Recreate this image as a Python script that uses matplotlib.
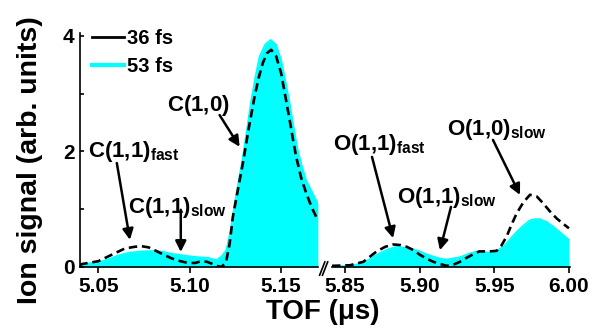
import matplotlib
matplotlib.use("Agg")
import matplotlib.pyplot as plt
from matplotlib.lines import Line2D
from matplotlib.ticker import MultipleLocator

plt.rcParams['font.family'] = ['Liberation Sans', 'DejaVu Sans']
plt.rcParams['font.weight'] = 'bold'
plt.rcParams['mathtext.fontset'] = 'custom'
plt.rcParams['mathtext.rm'] = 'Liberation Sans:bold'
plt.rcParams['mathtext.bf'] = 'Liberation Sans:bold'

# C region (left panel)
c_t53 = [5.0399, 5.0408, 5.0499, 5.0560, 5.0608, 5.0670, 5.0737, 5.0809, 5.0860, 5.0901,
         5.0992, 5.1050, 5.1101, 5.1147, 5.1175, 5.1202, 5.1225, 5.1248, 5.1270, 5.1293,
         5.1316, 5.1339, 5.1362, 5.1384, 5.1415, 5.1445, 5.1475, 5.1503, 5.1526, 5.1549,
         5.1571, 5.1593, 5.1617, 5.1640, 5.1672, 5.1704]
c_y53 = [0.03, 0.05, 0.08, 0.14, 0.20, 0.25, 0.27, 0.28, 0.26, 0.23,
         0.19, 0.17, 0.16, 0.12, 0.18, 0.29, 0.62, 1.10, 1.50, 1.91,
         2.40, 2.89, 3.30, 3.64, 3.85, 3.93, 3.85, 3.58, 3.22, 2.84,
         2.42, 2.03, 1.74, 1.50, 1.30, 1.10]
c_t36 = [5.0399, 5.0408, 5.0499, 5.0572, 5.0645, 5.0700, 5.0737, 5.0775, 5.0809, 5.0860,
         5.0901, 5.0950, 5.0992, 5.1030, 5.1065, 5.1095, 5.1120, 5.1150, 5.1175, 5.1200,
         5.1220, 5.1238, 5.1265, 5.1293, 5.1325, 5.1357, 5.1380, 5.1402, 5.1425, 5.1448,
         5.1475, 5.1503, 5.1526, 5.1549, 5.1567, 5.1585, 5.1612, 5.1640, 5.1672, 5.1704]
c_y36 = [0.02, 0.05, 0.10, 0.21, 0.32, 0.35, 0.36, 0.34, 0.29, 0.21,
         0.15, 0.10, 0.07, 0.07, 0.10, 0.09, 0.06, 0.02, 0.00, 0.08,
         0.40, 0.87, 1.33, 1.80, 2.40, 2.95, 3.28, 3.53, 3.70, 3.76,
         3.65, 3.35, 2.95, 2.55, 2.22, 1.91, 1.55, 1.28, 1.02, 0.81]

# O region (right panel)
o_t53 = [5.8413, 5.8533, 5.8623, 5.8712, 5.8780, 5.8846, 5.8913, 5.8980, 5.9069, 5.9130,
         5.9181, 5.9270, 5.9330, 5.9382, 5.9426, 5.9471, 5.9516, 5.9560, 5.9605, 5.9650,
         5.9695, 5.9739, 5.9775, 5.9806, 5.9850, 5.9895, 5.9950, 6.0000]
o_y53 = [0.01, 0.02, 0.07, 0.21, 0.30, 0.35, 0.33, 0.29, 0.20, 0.15,
         0.13, 0.17, 0.23, 0.27, 0.26, 0.25, 0.28, 0.35, 0.48, 0.61,
         0.72, 0.81, 0.83, 0.83, 0.78, 0.70, 0.58, 0.47]
o_t36 = [5.8413, 5.8533, 5.8623, 5.8712, 5.8770, 5.8824, 5.8870, 5.8913, 5.8960, 5.9002,
         5.9050, 5.9091, 5.9140, 5.9181, 5.9225, 5.9270, 5.9315, 5.9359, 5.9400, 5.9426,
         5.9470, 5.9516, 5.9545, 5.9583, 5.9615, 5.9650, 5.9695, 5.9739, 5.9785, 5.9828,
         5.9870, 5.9918, 5.9960, 6.0000]
o_y36 = [0.02, 0.03, 0.09, 0.27, 0.35, 0.39, 0.38, 0.35, 0.29, 0.21,
         0.14, 0.09, 0.05, 0.02, 0.04, 0.09, 0.16, 0.22, 0.27, 0.27,
         0.27, 0.28, 0.36, 0.53, 0.73, 0.93, 1.12, 1.25, 1.22, 1.10,
         0.97, 0.84, 0.75, 0.67]

legend_labels = ['36 fs', '53 fs']
cyan = '#00FFFF'

fig = plt.figure(figsize=(5.98, 3.29), dpi=100)
axL = fig.add_axes([80/598, 1-267/329, 238/598, 234/329])
axR = fig.add_axes([332/598, 1-267/329, 238/598, 234/329])

for ax, t53, y53, t36, y36 in [(axL, c_t53, c_y53, c_t36, c_y36),
                               (axR, o_t53, o_y53, o_t36, o_y36)]:
    ax.fill_between(t53, 0, y53, color=cyan, lw=0)
    ax.plot(t53, y53, color=cyan, lw=1.2)
    ax.plot(t36, y36, color='k', lw=1.9, dashes=(3.2, 1.8))
    ax.set_ylim(0, 4.05)
    ax.spines['top'].set_visible(False)
    ax.spines['right'].set_visible(False)
    ax.spines['bottom'].set_linewidth(1.2)
    ax.tick_params(axis='x', direction='out', length=4, width=1.2, labelsize=15, pad=3)
    ax.patch.set_visible(False)

axL.set_xlim(5.0399, 5.1705)
axR.set_xlim(5.8413, 6.0007)
axL.set_xticks([5.05, 5.10, 5.15])
axL.set_xticklabels(['5.05', '5.10', '5.15'])
axR.set_xticks([5.85, 5.90, 5.95, 6.00])
axR.set_xticklabels(['5.85', '5.90', '5.95', '6.00'])

axL.spines['left'].set_linewidth(1.2)
axL.set_yticks([0, 2, 4])
axL.yaxis.set_minor_locator(MultipleLocator(1))
axL.tick_params(axis='y', which='both', direction='in', length=3, width=1.2, labelsize=15, pad=4)
axR.spines['left'].set_visible(False)
axR.set_yticks([])

# axis break marks
for dx in (0, 0.012):
    axR.plot([-0.052 + dx, -0.030 + dx], [-0.035, 0.022], transform=axR.transAxes,
             color='k', lw=1.2, clip_on=False)

fig.text(30/598, 1-160/329, 'Ion signal (arb. units)', rotation=90, ha='center', va='center',
         fontsize=20.5, fontweight='bold')
fig.text(323/598, 1-312/329, 'TOF (\u03bcs)', ha='center', va='center',
         fontsize=20, fontweight='bold')

handles = [Line2D([], [], color='k', lw=2), Line2D([], [], color=cyan, lw=3)]
axL.legend(handles, legend_labels, loc='upper left', bbox_to_anchor=(-0.025, 1.095), frameon=False,
           handlelength=1.6, handletextpad=0.15, labelspacing=0.45,
           prop={'weight': 'bold', 'size': 14.5})

arrow = dict(arrowstyle='-|>', lw=1.8, color='k', mutation_scale=16, shrinkA=0, shrinkB=0)
fs = 16
axL.text(5.0443, 1.905, r'$\mathbf{C(1{,}1)}_{\mathbf{fast}}$', fontsize=fs, va='baseline')
axL.annotate('', xy=(5.0673, 0.47), xytext=(5.0601, 1.80), arrowprops=arrow)
axL.text(5.0662, 0.935, r'$\mathbf{C(1{,}1)}_{\mathbf{slow}}$', fontsize=fs, va='baseline')
axL.annotate('', xy=(5.0952, 0.26), xytext=(5.0952, 0.99), arrowprops=arrow)
axL.text(5.0875, 2.70, r'$\mathbf{C(1{,}0)}$', fontsize=fs, va='baseline')
axL.annotate('', xy=(5.1275, 2.08), xytext=(5.1165, 2.63), arrowprops=arrow)

axR.text(5.842, 2.03, r'$\mathbf{O(1{,}1)}_{\mathbf{fast}}$', fontsize=fs, va='baseline')
axR.annotate('', xy=(5.8822, 0.50), xytext=(5.8681, 1.905), arrowprops=arrow)
axR.text(5.8848, 1.108, r'$\mathbf{O(1{,}1)}_{\mathbf{slow}}$', fontsize=fs, va='baseline')
axR.annotate('', xy=(5.9136, 0.29), xytext=(5.9210, 1.04), arrowprops=arrow)
axR.text(5.9183, 2.286, r'$\mathbf{O(1{,}0)}_{\mathbf{slow}}$', fontsize=fs, va='baseline')
axR.annotate('', xy=(5.9672, 1.247), xytext=(5.9491, 2.20), arrowprops=arrow)

fig.savefig('out.png', dpi=100)
